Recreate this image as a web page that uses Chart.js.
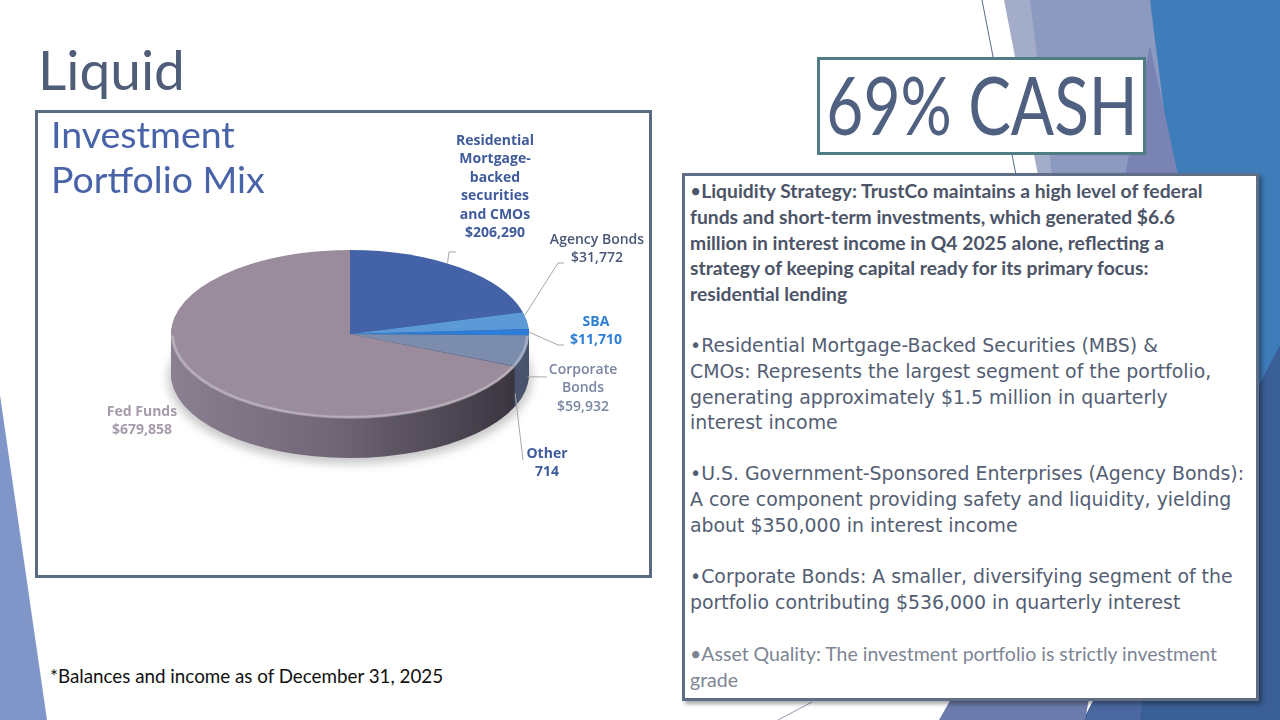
<!DOCTYPE html>
<html>
<head>
<meta charset="utf-8">
<script src="https://cdn.jsdelivr.net/npm/chart.js@4.4.1/dist/chart.umd.min.js"></script>
<style>
  html, body { margin: 0; padding: 0; }
  body { width: 1280px; height: 720px; position: relative; overflow: hidden; background: #fff; font-family: Lato, sans-serif; }
  .abs { position: absolute; white-space: nowrap; }
  #bg { position: absolute; left: 0; top: 0; }
  #title { left: 38px; top: 42px; font-size: 55px; line-height: 55px; color: #4f5d78; }
  #chartBox { left: 35px; top: 110px; width: 611px; height: 462px; border: 3px solid #5b6b80; background: #fff; }
  #chartBox canvas { position: absolute; left: 0; top: 0; }
  #chartTitle { left: 13px; top: -2px; font-size: 37.5px; line-height: 45px; color: #4863a8; }
  #cashBox { left: 817px; top: 57px; width: 323px; height: 92px; border: 3px solid #4f7d83; background: #fff; }
  #cashBox span { position: absolute; left: 50%; top: -1px; font-size: 82px; line-height: 88px; color: #4f6080; transform: translateX(-50%) scaleX(0.78); white-space: nowrap; }
  #textBox { left: 682px; top: 173px; width: 571px; height: 522px; border: 3px solid #5f6e84; background: #fff; box-shadow: 3px 3px 4px rgba(0,0,0,0.35); }
  .para { left: 690px; line-height: 25.8px; }
  .p1 { font-family: Lato, sans-serif; font-weight: bold; font-size: 19.3px; color: #4c5467; }
  .p1 b { font-weight: normal; }
  .p2 { font-family: "DejaVu Sans", sans-serif; font-size: 18.9px; color: #535e74; }
  .p5 { font-family: Lato, sans-serif; font-size: 19.5px; color: #7d8595; }
  #note { left: 50px; top: 664px; font-size: 18.8px; line-height: 24px; color: #111; }
</style>
</head>
<body>
<svg id="bg" width="1280" height="720">
  <polygon points="0,395 47,720 0,720" fill="#8196c8"/>
  <polygon points="1150,0 1280,0 1280,720 1180,720" fill="#3f7cba"/>
  <polygon points="1280,345 1280,720 1083,720" fill="#3a5e96"/>
  <polygon points="1007,0 1150,0 1172,175 1040,175" fill="#8d9ac0"/>
  <polygon points="1004,0 1030,0 1052,175 1038,175" fill="#a3adca"/>
  <polygon points="1150,45 1178,175 1125,175" fill="#7a84b4"/>
  <polygon points="939,720 985,640 1100,640 1085,720" fill="#6b7bac"/>
  <polygon points="1085,720 1120,640 1150,640 1140,720" fill="#4a67a0"/>
  <line x1="982" y1="0" x2="1016" y2="175" stroke="#5b6a8a" stroke-width="1"/>
  <line x1="778" y1="720" x2="812" y2="702" stroke="#8f9bb0" stroke-width="1"/>
</svg>

<div id="title" class="abs">Liquid</div>

<div id="chartBox" class="abs">
  <canvas id="pie" width="611" height="462"></canvas>
  <div id="chartTitle" class="abs">Investment<br>Portfolio Mix</div>
</div>

<div id="cashBox" class="abs"><span>69% CASH</span></div>

<div id="textBox" class="abs"></div>
<div class="abs para p1" style="top:178px"><b>•</b>Liquidity Strategy: TrustCo maintains a high level of federal<br>funds and short-term investments, which generated $6.6<br>million in interest income in Q4 2025 alone, reflecting a<br>strategy of keeping capital ready for its primary focus:<br>residential lending</div>
<div class="abs para p2" style="top:333px">•Residential Mortgage-Backed Securities (MBS) &amp;<br>CMOs: Represents the largest segment of the portfolio,<br>generating approximately $1.5 million in quarterly<br>interest income</div>
<div class="abs para p2" style="top:461px">•U.S. Government-Sponsored Enterprises (Agency Bonds):<br>A core component providing safety and liquidity, yielding<br>about $350,000 in interest income</div>
<div class="abs para p2" style="top:564px">•Corporate Bonds: A smaller, diversifying segment of the<br>portfolio contributing $536,000 in quarterly interest</div>
<div class="abs para p5" style="top:641px">•Asset Quality: The investment portfolio is strictly investment<br>grade</div>

<div id="note" class="abs">*Balances and income as of December 31, 2025</div>

<script>
// investment portfolio balances ($000)
const categories = ['Residential Mortgage-backed securities and CMOs', 'Agency Bonds', 'SBA', 'Corporate Bonds', 'Other', 'Fed Funds'];
const balances = [206290, 31772, 11710, 59932, 714, 679858];
const labelNames = [
  ['Residential', 'Mortgage-', 'backed', 'securities', 'and CMOs'],
  ['Agency Bonds'],
  ['SBA'],
  ['Corporate', 'Bonds'],
  ['Other'],
  ['Fed Funds']
];
const valuePrefix = ['$', '$', '$', '$', '', '$'];

const topColors = ['#4462a8', '#5b9ad6', '#2c7cd8', '#7b8cad', '#41598f', '#9a8c9c'];
const sideColors = ['#2c3f70', '#3b6592', '#1f5493', '#4a546d', '#2c3c62', null];
const labelColors = ['#3f5b9c', '#4a5878', '#2e7fd6', '#7a86a2', '#3f5b9c', '#a79bab'];
const labelWeights = ['bold', '600', 'bold', '600', 'bold', 'bold'];

// label layout in page pixels: first line centre, leader start (fraction of slice, drop) and bends
const labelLayout = [
  { x: 495, y: 141, at: 0.44, drop: 0, via: [[449, 252], [456, 252]] },
  { x: 597, y: 240, at: 0.2, drop: 0, via: [[558, 263], [564, 263]] },
  { x: 596, y: 322, at: 0.5, drop: 0, via: [[558, 345], [564, 345]] },
  { x: 583, y: 370, at: 0.3, drop: 32, via: [[547, 377]] },
  { x: 547, y: 454, at: 0.5, drop: 27, via: [[523, 460]] },
  { x: 142, y: 412, at: 0, drop: 0, via: null }
];

const ORIGIN = [38, 113];   // canvas offset on the page
const SQUASH = 84 / 179;    // ellipse ratio of the pie top
const DEPTH = 40;           // pie thickness in px

function squash(ctx, cy) {
  ctx.translate(0, cy);
  ctx.scale(1, SQUASH);
  ctx.translate(0, -cy);
}

const pie3d = {
  id: 'pie3d',
  beforeDatasetsDraw(chart) {
    const ctx = chart.ctx;
    const arcs = chart.getDatasetMeta(0).data;
    const { x: cx, y: cy, outerRadius: r } = arcs[0].getProps(['x', 'y', 'outerRadius']);

    // soft shadow under the pie
    ctx.save();
    ctx.filter = 'blur(5px)';
    ctx.fillStyle = 'rgba(0,0,0,0.22)';
    ctx.beginPath();
    ctx.ellipse(cx, cy + DEPTH + 4, r + 3, r * SQUASH + 2, 0, 0, Math.PI * 2);
    ctx.fill();
    ctx.restore();

    const sideGrad = ctx.createLinearGradient(cx - r, 0, cx + r, 0);
    sideGrad.addColorStop(0, '#8b8091');
    sideGrad.addColorStop(0.45, '#716676');
    sideGrad.addColorStop(0.85, '#46404c');
    sideGrad.addColorStop(1, '#34303a');

    // side wall: stack the slices downwards
    for (let d = DEPTH; d > 0; d--) {
      arcs.forEach((arc, i) => {
        const p = arc.getProps(['x', 'y', 'startAngle', 'endAngle', 'outerRadius']);
        ctx.save();
        ctx.translate(0, d);
        squash(ctx, p.y);
        ctx.beginPath();
        ctx.moveTo(p.x, p.y);
        ctx.arc(p.x, p.y, p.outerRadius, p.startAngle, p.endAngle);
        ctx.closePath();
        ctx.fillStyle = sideColors[i] || sideGrad;
        ctx.fill();
        ctx.restore();
      });
    }

    ctx.save();
    squash(ctx, cy);
  },
  afterDatasetsDraw(chart) {
    const ctx = chart.ctx;
    ctx.restore();
    const arcs = chart.getDatasetMeta(0).data;
    const { x: cx, y: cy, outerRadius: r } = arcs[0].getProps(['x', 'y', 'outerRadius']);

    // bevel highlight on the front rim
    ctx.save();
    ctx.save();
    squash(ctx, cy);
    ctx.beginPath();
    ctx.arc(cx, cy, r - 1.5, 0.02, Math.PI - 0.02);
    ctx.restore();
    ctx.strokeStyle = 'rgba(255,255,255,0.28)';
    ctx.lineWidth = 3;
    ctx.stroke();
    ctx.restore();

    // data labels with leader lines
    arcs.forEach((arc, i) => {
      const lay = labelLayout[i];
      const p = arc.getProps(['startAngle', 'endAngle']);
      if (lay.via) {
        const a = p.startAngle + (p.endAngle - p.startAngle) * lay.at;
        const sx = cx + r * Math.cos(a);
        const sy = cy + r * Math.sin(a) * SQUASH + lay.drop;
        ctx.save();
        ctx.strokeStyle = '#a6a6a6';
        ctx.lineWidth = 1;
        ctx.beginPath();
        ctx.moveTo(sx, sy);
        lay.via.forEach(pt => ctx.lineTo(pt[0] - ORIGIN[0], pt[1] - ORIGIN[1]));
        ctx.stroke();
        ctx.restore();
      }
      const lines = labelNames[i].concat([valuePrefix[i] + balances[i].toLocaleString('en-US')]);
      ctx.save();
      ctx.font = labelWeights[i] + ' 14px "Open Sans", sans-serif';
      ctx.fillStyle = labelColors[i];
      ctx.textAlign = 'center';
      ctx.textBaseline = 'middle';
      lines.forEach((t, k) => ctx.fillText(t, lay.x - ORIGIN[0], lay.y - ORIGIN[1] + k * 18.4));
      ctx.restore();
    });
  }
};

new Chart(document.getElementById('pie'), {
  type: 'pie',
  data: {
    labels: categories,
    datasets: [{
      data: balances,
      backgroundColor: topColors,
      borderWidth: 0
    }]
  },
  options: {
    responsive: false,
    animation: false,
    events: [],
    layout: { padding: { left: 133, right: 120, top: 42, bottom: 62 } },
    plugins: {
      legend: { display: false },
      tooltip: { enabled: false },
      title: { display: false }
    }
  },
  plugins: [pie3d]
});
</script>
</body>
</html>
